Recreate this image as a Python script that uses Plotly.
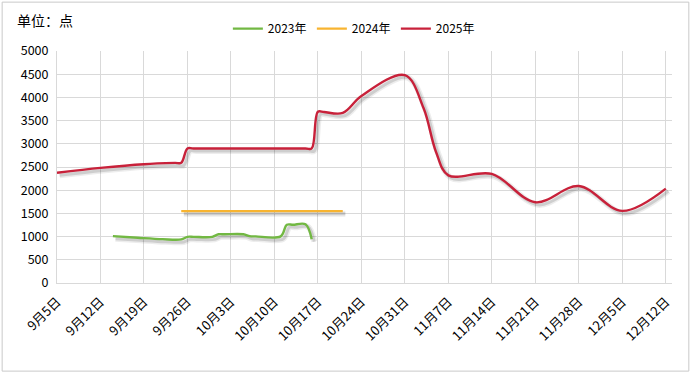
import pandas as pd
import plotly.graph_objects as go

# ---------------- data ----------------
dates_2025 = ["2025-09-05", "2025-09-12", "2025-09-19", "2025-09-24", "2025-09-25",
              "2025-09-26", "2025-09-27", "2025-10-15", "2025-10-16", "2025-10-17",
              "2025-10-18", "2025-10-21", "2025-10-24", "2025-10-31", "2025-11-03",
              "2025-11-05", "2025-11-07", "2025-11-14", "2025-11-21", "2025-11-28",
              "2025-12-05", "2025-12-12"]
values_2025 = [2375, 2480, 2560, 2588, 2590,
               2900, 2900, 2900, 2900, 3690,
               3685, 3665, 4030, 4480, 3770,
               2830, 2320, 2350, 1740, 2090,
               1555, 2035]

dates_2024 = ["2025-09-25", "2025-10-21"]
values_2024 = [1550, 1550]

dates_2023 = ["2025-09-14", "2025-09-18", "2025-09-22", "2025-09-25", "2025-09-26",
              "2025-09-27", "2025-09-30", "2025-10-01", "2025-10-02", "2025-10-05",
              "2025-10-06", "2025-10-07", "2025-10-11", "2025-10-12", "2025-10-13",
              "2025-10-15", "2025-10-16"]
values_2023 = [1010, 975, 945, 940, 995,
               995, 995, 1050, 1050, 1050,
               1010, 1005, 1005, 1255, 1255,
               1265, 945]

series_names = ["2023年", "2024年", "2025年"]
series_colors = ["#72B843", "#F8B430", "#C8213A"]

tick_dates = pd.date_range("2025-09-05", "2025-12-12", freq="7D")
tick_labels = ["9月5日", "9月12日", "9月19日", "9月26日", "10月3日", "10月10日",
               "10月17日", "10月24日", "10月31日", "11月7日", "11月14日",
               "11月21日", "11月28日", "12月5日", "12月12日"]

y_ticks = list(range(0, 5001, 500))

FONT = "Noto Sans CJK SC, Microsoft YaHei, sans-serif"

fig = go.Figure()

all_series = [(dates_2023, values_2023), (dates_2024, values_2024), (dates_2025, values_2025)]

# soft shadows (drawn first, offset slightly down-right like the original)
for d, v in all_series:
    xs = pd.to_datetime(d) + pd.Timedelta(hours=10)
    ys = [val - 55 for val in v]
    fig.add_trace(go.Scatter(x=xs, y=ys, mode="lines",
                             line=dict(color="rgba(0,0,0,0.07)", width=6, shape="spline", smoothing=1),
                             showlegend=False, hoverinfo="skip"))
    fig.add_trace(go.Scatter(x=xs, y=ys, mode="lines",
                             line=dict(color="rgba(0,0,0,0.13)", width=3, shape="spline", smoothing=1),
                             showlegend=False, hoverinfo="skip"))

for (d, v), name, col in zip(all_series, series_names, series_colors):
    fig.add_trace(go.Scatter(x=pd.to_datetime(d), y=v, mode="lines", name=name,
                             line=dict(color=col, width=2.4, shape="spline", smoothing=1)))

# plot area pixel geometry
L, R, T, B = 57.3, 671.7, 51.3, 283.0
W, H = 690, 372
pw, ph = R - L, B - T

def px_x(p):
    return (p - L) / pw

def px_y(p):
    return (B - p) / ph

fig.update_layout(
    width=W, height=H,
    margin=dict(l=L, r=W - R, t=T, b=H - B, pad=0),
    paper_bgcolor="white", plot_bgcolor="white",
    font=dict(family=FONT, size=12, color="#000000"),
    title=dict(text="单位：点", x=17 / W, xref="container", xanchor="left",
               y=1 - 21 / H, yref="container", yanchor="middle",
               font=dict(family=FONT, size=14, color="#000000")),
    showlegend=True,
    legend=dict(orientation="h", x=px_x(228), xanchor="left", y=px_y(29), yanchor="middle",
                font=dict(family=FONT, size=12, color="#000000"),
                entrywidth=39, entrywidthmode="pixels",
                bgcolor="rgba(0,0,0,0)", traceorder="normal"),
    xaxis=dict(type="date", range=["2025-09-05", "2025-12-13"],
               tickvals=tick_dates, ticktext=tick_labels, tickangle=-45,
               showgrid=True, gridcolor="#D9D9D9", gridwidth=1,
               showline=True, linecolor="#D9D9D9", linewidth=1,
               ticks="", zeroline=False, ticklabelstandoff=5,
               tickfont=dict(family=FONT, size=13, color="#000000")),
    yaxis=dict(range=[0, 5000], tickvals=y_ticks, ticktext=[str(t) for t in y_ticks],
               showgrid=True, gridcolor="#D9D9D9", gridwidth=1,
               showline=True, linecolor="#D9D9D9", linewidth=1,
               ticks="", zeroline=False, ticklabelstandoff=5,
               tickfont=dict(family=FONT, size=12.5, color="#000000")),
    shapes=[dict(type="rect", xref="paper", yref="paper",
                 x0=px_x(2.5), x1=px_x(688.5), y0=px_y(371.0), y1=px_y(2.5),
                 line=dict(color="#C9C9C9", width=1), fillcolor="rgba(0,0,0,0)", layer="below")],
)

fig.write_html("out.html", config={"displayModeBar": False},
               post_script="document.body.style.margin='0';document.body.style.overflow='hidden';")
